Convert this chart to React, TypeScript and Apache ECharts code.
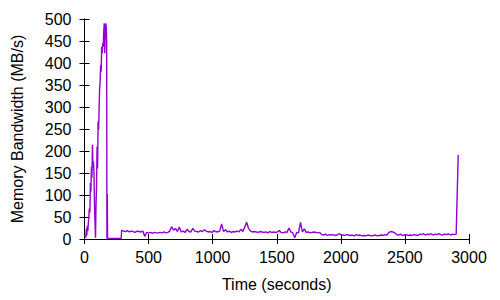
import React, { useEffect, useRef } from "react";
import * as echarts from "echarts";

// Start-up burst (time in s, bandwidth in MB/s)
const burstTimes = [0, 5, 10, 15, 18, 22, 26, 30, 34, 38, 42, 46, 50, 54, 58, 62, 66, 70, 74, 78, 82, 86, 90, 94, 98, 102, 106, 110, 114, 118, 122, 126, 130, 134, 138, 142, 146, 150, 154, 158, 162, 166, 170, 173, 175, 178, 180, 184, 230, 260, 286];
const burstValues = [5, 9, 3, 24, 8, 30, 18, 36, 51, 70, 60, 127, 108, 164, 140, 214, 164, 176, 150, 78, 36, 3, 81, 120, 210, 160, 267, 248, 297, 342, 358, 395, 380, 437, 422, 445, 437, 471, 490, 422, 471, 490, 480, 450, 1, 102, 1, 0, 1, 1, 1];

// Steady phase, sampled every 15 s starting at 290 s
const steadyStart = 290;
const steadyStep = 15;
const steadyValues = [
  20, 18, 17, 19, 16, 18, 17, 15, 18, 17,
  16, 18, 6, 15, 14, 15, 13, 15, 14, 14,
  15, 14, 16, 14, 15, 18, 28, 20, 24, 17,
  27, 16, 18, 15, 22, 17, 16, 24, 18, 17,
  16, 19, 17, 21, 18, 16, 17, 15, 19, 17,
  16, 18, 34, 17, 21, 16, 18, 15, 17, 16,
  18, 16, 22, 17, 27, 38, 24, 18, 16, 17,
  16, 15, 17, 16, 15, 16, 14, 17, 15, 16,
  15, 16, 19, 15, 14, 16, 15, 25, 16, 14,
  3, 15, 14, 38, 16, 23, 15, 16, 14, 15,
  16, 15, 14, 15, 10, 9, 11, 8, 10, 9,
  10, 8, 9, 12, 10, 9, 8, 10, 9, 8,
  9, 7, 10, 8, 9, 7, 8, 7, 9, 8,
  7, 8, 9, 7, 8, 9, 8, 10, 9, 15,
  17, 16, 14, 10, 9, 11, 8, 9, 10, 8,
  9, 8, 10, 9, 8, 11, 10, 12, 9, 11,
  10, 12, 9, 11, 10, 12, 10, 9, 11, 10,
  12, 9, 11, 10, 11,
];

// Final spike at the end of the run
const endTimes = [2908, 2916];
const endValues = [104, 191];

const xTicks = { min: 0, max: 3000, interval: 500 };
const yTicks = { min: 0, max: 500, interval: 50 };

const FONT = "Liberation Sans, Arial, sans-serif";

export default function App() {
  const ref = useRef<HTMLDivElement>(null);
  useEffect(() => {
    if (!ref.current) return;
    const chart = echarts.init(ref.current, undefined, { renderer: "svg" });
    const data: [number, number][] = [];
    burstTimes.forEach((t, i) => data.push([t, burstValues[i]]));
    steadyValues.forEach((v, i) => data.push([steadyStart + i * steadyStep, v]));
    endTimes.forEach((t, i) => data.push([t, endValues[i]]));

    const axisLine = { show: true, lineStyle: { color: "#000", width: 1 } };
    const axisTick = { show: true, inside: true, length: 5, lineStyle: { color: "#000", width: 1 } };
    const label = { color: "#000", fontSize: 16, fontFamily: FONT };
    const plain = (v: number) => String(v);

    chart.setOption({
      animation: false,
      backgroundColor: "#fff",
      grid: { left: 84.5, right: 31, top: 19, bottom: 61, containLabel: false },
      xAxis: [
        {
          type: "value",
          position: "bottom",
          ...xTicks,
          axisLine,
          axisTick,
          splitLine: { show: false },
          axisLabel: { ...label, margin: 10, formatter: plain },
          name: "Time (seconds)",
          nameLocation: "middle",
          nameGap: 37,
          nameTextStyle: label,
        },
        {
          type: "value",
          position: "top",
          ...xTicks,
          axisLine,
          axisTick,
          splitLine: { show: false },
          axisLabel: { show: false },
        },
      ],
      yAxis: [
        {
          type: "value",
          position: "left",
          ...yTicks,
          axisLine,
          axisTick,
          splitLine: { show: false },
          axisLabel: { ...label, margin: 13, formatter: plain },
          name: "Memory Bandwidth (MB/s)",
          nameLocation: "middle",
          nameGap: 59,
          nameTextStyle: label,
        },
        {
          type: "value",
          position: "right",
          ...yTicks,
          axisLine,
          axisTick,
          splitLine: { show: false },
          axisLabel: { show: false },
        },
      ],
      series: [
        {
          type: "line",
          data,
          showSymbol: false,
          symbol: "none",
          lineStyle: { color: "#9400d3", width: 1.4 },
          itemStyle: { color: "#9400d3" },
          clip: true,
        },
      ],
    });
    return () => chart.dispose();
  }, []);
  return (
    <div
      ref={ref}
      style={{ position: "fixed", left: 0, top: 0, width: 500, height: 300 }}
    />
  );
}
